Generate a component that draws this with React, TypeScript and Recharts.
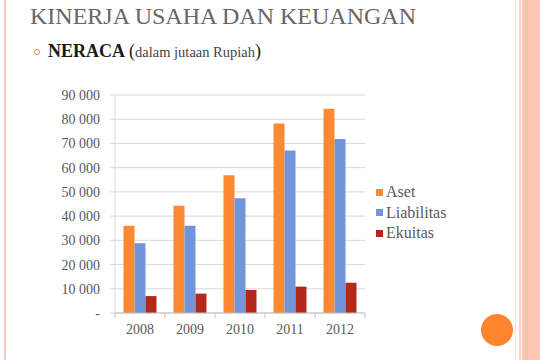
import { BarChart, Bar, XAxis, YAxis, CartesianGrid } from 'recharts';

const years = ['2008', '2009', '2010', '2011', '2012'];
const aset = [36000, 44300, 56900, 78200, 84300];
const liabilitas = [28800, 36000, 47400, 67100, 71800];
const ekuitas = [7000, 8000, 9500, 10900, 12500];
const yTicks = [0, 10000, 20000, 30000, 40000, 50000, 60000, 70000, 80000, 90000];

const series = [
    { key: 'aset', name: 'Aset', color: '#fd8a33', values: aset },
    { key: 'liabilitas', name: 'Liabilitas', color: '#7096d9', values: liabilitas },
    { key: 'ekuitas', name: 'Ekuitas', color: '#b2281b', values: ekuitas },
];

const data = years.map((year, i) => ({
    year,
    aset: aset[i],
    liabilitas: liabilitas[i],
    ekuitas: ekuitas[i],
}));

const FONT = '"Liberation Serif", "Times New Roman", serif';
const BAND = 50;

const formatY = (v: number) => (v === 0 ? '-' : `${Math.round(v / 1000)} 000`);

function XTick(props: any) {
    const { x, y, payload, index } = props;
    const axisY = y - 8;
    return (
        <g>
            <line x1={x + BAND / 2} y1={axisY} x2={x + BAND / 2} y2={axisY + 5} stroke="#bfbfbf" />
            {index === 0 && (
                <line x1={x - BAND / 2} y1={axisY} x2={x - BAND / 2} y2={axisY + 5} stroke="#bfbfbf" />
            )}
            <text x={x} y={y + 13} textAnchor="middle" fill="#595959" fontSize={14} fontFamily={FONT}>
                {payload.value}
            </text>
        </g>
    );
}

export default function App() {
    return (
        <div
            style={{
                position: 'fixed',
                left: 0,
                top: 0,
                width: 540,
                height: 360,
                background: '#fff',
                overflow: 'hidden',
                fontFamily: FONT,
            }}
        >
            {/* slide decorations */}
            <div style={{ position: 'absolute', left: 4, top: 0, width: 2, height: 360, background: '#f9cbb9' }} />
            <div style={{ position: 'absolute', left: 515, top: 0, width: 1, height: 360, background: '#fbe1d7' }} />
            <div style={{ position: 'absolute', left: 519, top: 0, width: 2, height: 360, background: '#fad5c7' }} />
            <div style={{ position: 'absolute', left: 522, top: 0, width: 18, height: 360, background: '#fdc6b2' }} />
            <div style={{ position: 'absolute', left: 527, top: 0, width: 1, height: 360, background: '#f5b8a2' }} />
            <div
                style={{
                    position: 'absolute',
                    left: 481,
                    top: 314,
                    width: 32,
                    height: 32,
                    borderRadius: '50%',
                    background: '#fd8530',
                }}
            />

            <div
                style={{
                    position: 'absolute',
                    left: 30,
                    top: 1,
                    fontSize: 24,
                    color: '#666',
                    whiteSpace: 'nowrap',
                    lineHeight: '30px',
                }}
            >
                KINERJA USAHA DAN KEUANGAN
            </div>
            <div
                style={{
                    position: 'absolute',
                    left: 34,
                    top: 49,
                    width: 4,
                    height: 4,
                    borderRadius: '50%',
                    border: '1.5px solid #f58a45',
                }}
            />
            <div
                style={{
                    position: 'absolute',
                    left: 48,
                    top: 40,
                    whiteSpace: 'nowrap',
                    lineHeight: '22px',
                    color: '#1a1a1a',
                }}
            >
                <span style={{ fontSize: 18, fontWeight: 'bold' }}>NERACA</span>{' '}
                <span style={{ fontSize: 18 }}>(</span>
                <span style={{ fontSize: 14.5, color: '#444' }}>dalam jutaan Rupiah</span>
                <span style={{ fontSize: 18 }}>)</span>
            </div>

            <div style={{ position: 'absolute', left: 0, top: 0 }}>
                <BarChart
                    width={540}
                    height={360}
                    data={data}
                    margin={{ top: 95, right: 175, left: 55, bottom: 17 }}
                    barCategoryGap="17%"
                    barGap={0}
                >
                    <CartesianGrid vertical={false} stroke="#d9d9d9" />
                    <XAxis
                        dataKey="year"
                        stroke="#bfbfbf"
                        tickLine={false}
                        tick={<XTick />}
                        height={30}
                        interval={0}
                    />
                    <YAxis
                        width={60}
                        domain={[0, 90000]}
                        ticks={yTicks}
                        tickFormatter={formatY}
                        stroke="#d9d9d9"
                        tickSize={5}
                        tickMargin={10}
                        tick={{ fill: '#595959', fontSize: 14, fontFamily: FONT }}
                        interval={0}
                    />
                    {series.map((s) => (
                        <Bar key={s.key} dataKey={s.key} name={s.name} fill={s.color} isAnimationActive={false} />
                    ))}
                </BarChart>
            </div>

            <div style={{ position: 'absolute', left: 376, top: 182 }}>
                {series.map((s) => (
                    <div
                        key={s.key}
                        style={{ display: 'flex', alignItems: 'center', height: 20.5, whiteSpace: 'nowrap' }}
                    >
                        <span style={{ width: 7, height: 7, background: s.color, marginRight: 3 }} />
                        <span style={{ fontSize: 16, color: '#595959' }}>{s.name}</span>
                    </div>
                ))}
            </div>
        </div>
    );
}
